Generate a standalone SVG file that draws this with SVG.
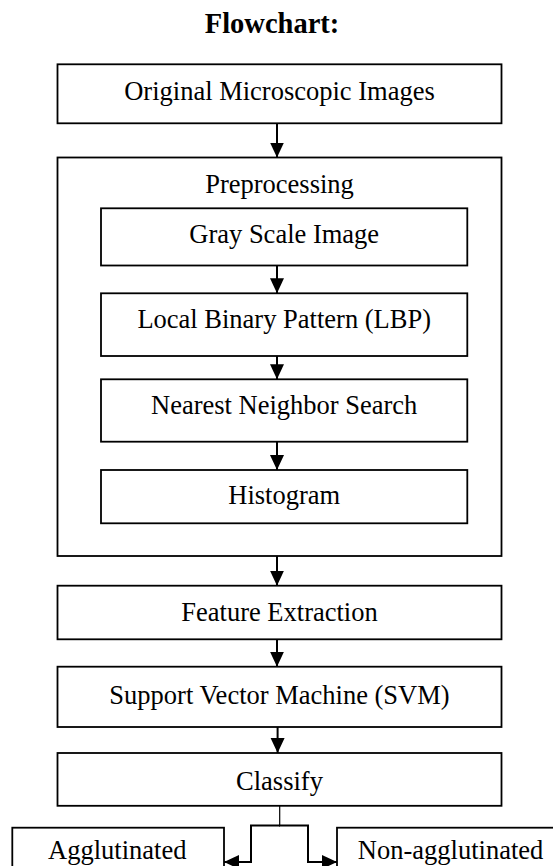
<svg xmlns="http://www.w3.org/2000/svg" width="553" height="866" viewBox="0 0 553 866">
<style>
.box{fill:#fff;stroke:#000;stroke-width:1.8}
.t{font-family:"Liberation Serif","Times New Roman",serif;font-size:26.5px;text-anchor:middle;fill:#000}
.title{font-family:"Liberation Serif","Times New Roman",serif;font-size:28.5px;font-weight:bold;text-anchor:middle;fill:#000}
.c{fill:none;stroke:#000;stroke-width:2}
</style>
<defs>
<marker id="ah" markerUnits="userSpaceOnUse" markerWidth="16" markerHeight="16" viewBox="0 0 16 16" refX="15" refY="8" orient="auto">
<path d="M0,1 L15,8 L0,15 Z" fill="#000"/>
</marker>
</defs>
<rect width="553" height="866" fill="#fff"/>
<text class="title" x="272" y="33">Flowchart:</text>
<g id="n-original"><rect class="box" x="57.5" y="64.3" width="444" height="59"/><text class="t" x="279.5" y="100">Original Microscopic Images</text></g>
<g id="n-preprocessing"><rect class="box" x="57.5" y="157.5" width="444" height="398.5"/><text class="t" x="279.5" y="193.3">Preprocessing</text></g>
<g id="n-gray"><rect class="box" x="101" y="208.3" width="366.3" height="57.2"/><text class="t" x="284.2" y="243.3">Gray Scale Image</text></g>
<g id="n-lbp"><rect class="box" x="101" y="293.3" width="366.3" height="62.7"/><text class="t" x="284.2" y="328.3">Local Binary Pattern (LBP)</text></g>
<g id="n-nns"><rect class="box" x="101" y="379.3" width="366.3" height="62.4"/><text class="t" x="284.2" y="414">Nearest Neighbor Search</text></g>
<g id="n-hist"><rect class="box" x="101" y="470" width="366.3" height="53.3"/><text class="t" x="284.2" y="504.3">Histogram</text></g>
<g id="n-feature"><rect class="box" x="57.5" y="585.7" width="444" height="53.6"/><text class="t" x="279.5" y="620.7">Feature Extraction</text></g>
<g id="n-svm"><rect class="box" x="57.5" y="666.7" width="444" height="60.3"/><text class="t" x="279.5" y="703.5">Support Vector Machine (SVM)</text></g>
<g id="n-classify"><rect class="box" x="57.5" y="753" width="444" height="52.8"/><text class="t" x="279.5" y="790">Classify</text></g>
<g id="n-agg"><rect class="box" x="12.3" y="827.7" width="211.7" height="50"/><text class="t" x="117.3" y="859">Agglutinated</text></g>
<g id="n-nonagg"><rect class="box" x="337" y="827.7" width="230" height="50"/><text class="t" x="450.6" y="859">Non-agglutinated</text></g>
<g id="connectors">
<line class="c" x1="277" y1="123.3" x2="277" y2="157.5" marker-end="url(#ah)"/>
<line class="c" x1="277" y1="265.5" x2="277" y2="293.3" marker-end="url(#ah)"/>
<line class="c" x1="277" y1="356" x2="277" y2="379.3" marker-end="url(#ah)"/>
<line class="c" x1="277" y1="441.7" x2="277" y2="470" marker-end="url(#ah)"/>
<line class="c" x1="277" y1="556" x2="277" y2="585.7" marker-end="url(#ah)"/>
<line class="c" x1="277" y1="639.3" x2="277" y2="666.7" marker-end="url(#ah)"/>
<line class="c" x1="277.6" y1="727" x2="277.6" y2="753" marker-end="url(#ah)"/>
<line x1="279.7" y1="805.8" x2="279.7" y2="825.5" stroke="#000" stroke-width="1.2"/>
<polyline class="c" points="280,825.5 251,825.5 251,862 224,862" marker-end="url(#ah)"/>
<polyline class="c" points="279,825.5 308,825.5 308,862 337,862" marker-end="url(#ah)"/>
</g>
</svg>
